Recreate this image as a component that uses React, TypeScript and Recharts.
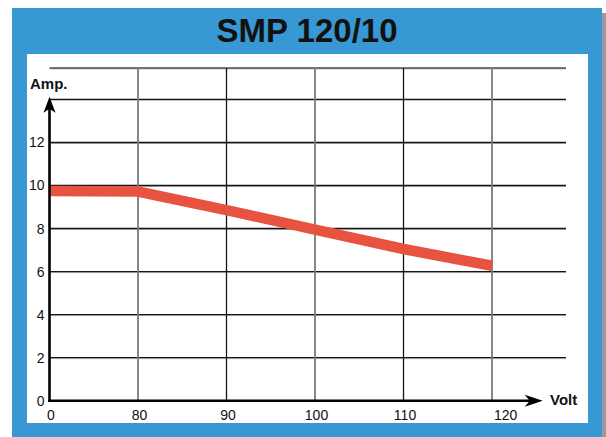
import React from "react";
import { LineChart, Line, XAxis, YAxis, CartesianGrid, ReferenceLine } from "recharts";

const volts = [0, 80, 90, 100, 110, 120];
const amps = [9.74, 9.72, 8.86, 7.95, 7.05, 6.27];
const ampTicks = [0, 2, 4, 6, 8, 10, 12];
const voltIndex = [0, 1, 2, 3, 4, 5];

const X_MAX = 5.836;
const Y_MAX = 15.46;
const X_ARROW = 5.573;
const Y_ARROW = 14.12;

const data = volts.map((v, i) => ({ i, v, a: amps[i] }));
const gridTicks = [...ampTicks, 14, Y_MAX];

const FONT = "'Liberation Sans', Arial, Helvetica, sans-serif";
const BLUE = "#3898D4";
const RED = "#E8533F";

const XTick = (props: any) => {
  const { x, y, payload, index } = props;
  const last = index === voltIndex.length - 1;
  return (
    <text
      x={last ? x + 2 : x + 1.5}
      y={y + 19}
      textAnchor={last ? "start" : "middle"}
      fontSize={14}
      fontFamily={FONT}
      fill="#111"
    >
      {volts[payload.value]}
    </text>
  );
};

const YTick = (props: any) => {
  const { x, y, payload } = props;
  if (!ampTicks.includes(payload.value)) return null;
  return (
    <text x={x - 5} y={y + 5} textAnchor="end" fontSize={14} fontFamily={FONT} fill="#111">
      {payload.value}
    </text>
  );
};

const VArrow = (props: any) => {
  const { x1, y1, y2 } = props;
  const x = x1;
  const top = Math.min(y1, y2);
  const bottom = Math.max(y1, y2);
  return (
    <g>
      <line x1={x} y1={bottom + 1.3} x2={x} y2={top + 10} stroke="#000" strokeWidth={2.6} />
      <polygon
        points={`${x},${top} ${x + 6},${top + 16} ${x},${top + 12} ${x - 6},${top + 16}`}
        fill="#000"
      />
    </g>
  );
};

const HArrow = (props: any) => {
  const { x1, y1, x2 } = props;
  const y = y1;
  const left = Math.min(x1, x2);
  const right = Math.max(x1, x2);
  return (
    <g>
      <line x1={left - 1.3} y1={y} x2={right - 10} y2={y} stroke="#000" strokeWidth={2.6} />
      <polygon
        points={`${right},${y} ${right - 18},${y - 6} ${right - 13},${y} ${right - 18},${y + 6}`}
        fill="#000"
      />
    </g>
  );
};

const vLine = (p: any) => {
  if (p.index === 0) return <g key={p.key} />;
  const black = p.index % 2 === 0;
  return (
    <line
      key={p.key}
      x1={p.x1}
      y1={p.y1}
      x2={p.x2}
      y2={p.y2}
      stroke={black ? "#151515" : "#7a7a7a"}
      strokeWidth={black ? 1.3 : 1.8}
    />
  );
};

const hLine = (p: any) => {
  if (p.index === 0) return <g key={p.key} />;
  const top = p.index === gridTicks.length - 1;
  return (
    <g key={p.key}>
      <line x1={p.x1} y1={p.y1 + 1} x2={p.x2} y2={p.y2 + 1} stroke="#bdbdbd" strokeWidth={1} />
      <line
        x1={p.x1}
        y1={p.y1}
        x2={p.x2}
        y2={p.y2}
        stroke={top ? "#4a4a4a" : "#151515"}
        strokeWidth={1.4}
      />
    </g>
  );
};

export default function App() {
  return (
    <div style={{ position: "absolute", left: 0, top: 0, width: 606, height: 437, background: "#fff", overflow: "hidden" }}>
      <div style={{ position: "absolute", left: 602, top: 13, width: 4, height: 424, background: "#9a9a9a" }} />
      <div style={{ position: "absolute", left: 12, top: 8, width: 590, height: 429, background: BLUE }} />
      <div
        style={{
          position: "absolute",
          left: 12,
          top: 14,
          width: 590,
          textAlign: "center",
          fontFamily: FONT,
          fontWeight: 700,
          fontSize: 33,
          lineHeight: "33px",
          color: "#111",
        }}
      >
        SMP 120/10
      </div>
      <div style={{ position: "absolute", left: 27, top: 54, width: 561, height: 369, background: "#fff" }}>
        <LineChart
          width={561}
          height={369}
          data={data}
          margin={{ top: 14, right: 22, left: 0, bottom: 0 }}
        >
          <CartesianGrid horizontal={hLine} vertical={vLine} syncWithTicks />
          <XAxis
            type="number"
            dataKey="i"
            domain={[0, X_MAX]}
            ticks={voltIndex}
            allowDataOverflow
            axisLine={false}
            tickLine={false}
            tickSize={0}
            tickMargin={0}
            height={22.3}
            tick={XTick}
            interval={0}
          />
          <YAxis
            type="number"
            domain={[0, Y_MAX]}
            ticks={gridTicks}
            allowDataOverflow
            axisLine={false}
            tickLine={false}
            tickSize={0}
            tickMargin={0}
            width={22.5}
            tick={YTick}
            interval={0}
          />
          <Line
            type="linear"
            dataKey="a"
            stroke={RED}
            strokeWidth={10.5}
            dot={false}
            activeDot={false}
            isAnimationActive={false}
          />
          <ReferenceLine
            segment={[{ x: 0, y: 0 }, { x: 0, y: Y_ARROW }]}
            ifOverflow="visible"
            shape={VArrow}
          />
          <ReferenceLine
            segment={[{ x: 0, y: 0 }, { x: X_ARROW, y: 0 }]}
            ifOverflow="visible"
            shape={HArrow}
          />
        </LineChart>
      </div>
      <div
        style={{
          position: "absolute",
          left: 30,
          top: 75,
          fontFamily: FONT,
          fontWeight: 700,
          fontSize: 15,
          lineHeight: "17px",
          color: "#111",
        }}
      >
        Amp.
      </div>
      <div
        style={{
          position: "absolute",
          left: 550,
          top: 391,
          fontFamily: FONT,
          fontWeight: 700,
          fontSize: 15,
          lineHeight: "17px",
          color: "#111",
        }}
      >
        Volt
      </div>
    </div>
  );
}
